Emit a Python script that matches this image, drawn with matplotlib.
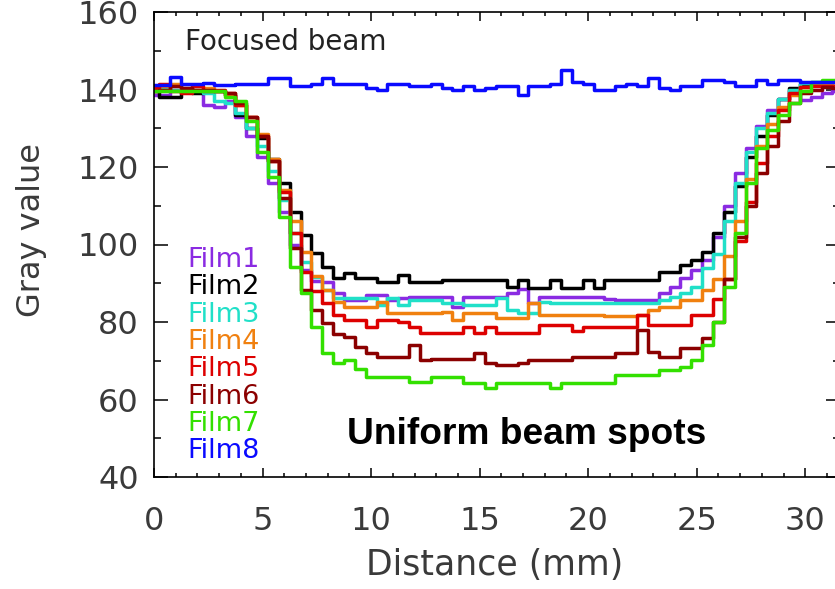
import matplotlib
matplotlib.use("Agg")
import matplotlib.pyplot as plt
from matplotlib.ticker import MultipleLocator

# sampling grid (mm)
distance = [i * 0.5 for i in range(64)]

film1 = [138.5, 138.5, 140, 140, 139.5, 136, 135.5, 137, 133, 128,
         122.5, 116, 108.5, 100, 93.4, 90.5, 90.3, 87.5, 85.7, 85.7,
         87, 87, 85.7, 86.2, 86.5, 86.5, 86.5, 86.5, 84, 86.5,
         86.5, 86.5, 86.5, 87.5, 88.5, 85, 86.5, 86.5, 86.5, 86.5,
         86.5, 86.5, 86, 85.7, 85.7, 85.7, 85.7, 87.5, 89, 91.3,
         93.4, 96, 102, 110, 118.5, 125, 130.5, 134.7, 137.5, 139.5,
         137.3, 138, 139, 139.5]
film2 = [139.5, 138, 138, 140, 139, 140, 139.5, 138.5, 133.5, 130,
         127.5, 122, 116, 108.5, 102.5, 97.8, 94.2, 91.3, 92.6, 91.3,
         91.3, 90.3, 90.3, 92.1, 90.3, 90.3, 90.3, 90.8, 90.8, 90.8,
         90.8, 90.8, 90.8, 89, 90.8, 88.8, 88.8, 90.8, 88.8, 88.8,
         90.8, 88.8, 90.8, 90.8, 90.8, 90.8, 90.8, 92.9, 92.9, 94.7,
         96, 98, 103, 108.5, 115, 122.6, 128, 133.5, 137.5, 140.5,
         141.5, 141.5, 141, 141]
film3 = [140, 140.5, 140, 139.5, 140, 139, 137, 136.5, 134, 130,
         125.5, 119, 111.5, 103, 95.5, 91.6, 88.3, 86.2, 86.2, 86.2,
         86.2, 84.4, 86.2, 84.4, 85.7, 85.7, 85.7, 84.9, 84.9, 84.4,
         84.4, 84.4, 86.2, 83.1, 82.3, 82.3, 85.2, 84.9, 84.9, 84.9,
         84.9, 84.9, 84.9, 84.9, 84.9, 84.9, 84.9, 85.7, 86.5, 87.5,
         89, 94, 97.5, 106, 116, 124, 130, 134, 137.5, 140,
         141.7, 142, 142, 142]
film4 = [140.5, 141, 141.5, 140.5, 140, 140.5, 139.5, 138.5, 136, 133,
         128.5, 122, 114, 106, 98, 92, 88.3, 85.2, 83.9, 83.9,
         83.9, 85.2, 82.3, 82.3, 82.3, 82.3, 82.3, 82.5, 80.5, 82.3,
         82.3, 82.3, 81, 81, 81, 85, 81.8, 81.8, 81.8, 81.8,
         81.8, 81.8, 81.5, 81.5, 81.5, 81.8, 83, 84, 84, 85.7,
         85.7, 88.3, 91, 97, 106, 117, 125.5, 131, 135.5, 138.5,
         140.6, 141.5, 141.5, 141]
film5 = [140.5, 141.5, 139.5, 139, 141, 139.5, 140, 139, 136, 133,
         128, 121.5, 113.5, 103, 93, 88, 84.9, 81.8, 80.5, 80.5,
         78.7, 80.5, 80.5, 80, 78.7, 77.2, 77.2, 77.2, 77.2, 78.7,
         77.2, 78.7, 77.2, 77.2, 77.2, 77.2, 79.2, 79.2, 79.2, 77.8,
         78.7, 78.7, 78.7, 78.7, 78.7, 81.8, 79.2, 79.2, 79.2, 79.2,
         81.8, 81.8, 86, 91, 101, 111, 121, 128, 134.7, 139,
         140.6, 141, 141, 141]
film6 = [139.5, 140, 141, 140.5, 140, 140, 139.5, 139, 136.5, 133,
         128, 121.5, 112, 99, 88.3, 83, 79.7, 77, 76.1, 73.5,
         72, 71, 71, 71, 74, 70.2, 70.5, 70.5, 70.5, 70.5,
         72, 69.4, 68.9, 68.9, 69.4, 70.2, 70.2, 70.2, 70.2, 71,
         71, 71, 71, 72, 72, 78, 72.3, 71, 71, 73.3,
         73.3, 75.9, 80, 91, 102, 110, 118.5, 125.5, 132, 136.5,
         139, 139.9, 140.6, 140.5]
film7 = [139.5, 139.6, 139.6, 139.6, 139.6, 139.6, 139.6, 138, 137, 132,
         124, 117.4, 107, 94.2, 87.5, 78.7, 72, 69.4, 70.2, 68,
         65.8, 65.8, 65.8, 65.8, 64.5, 64.5, 65.8, 65.8, 65.8, 64.3,
         64.3, 63, 64.3, 64.3, 64.3, 64.3, 64.3, 63, 64.3, 64.3,
         64.3, 64.3, 64.3, 66.3, 66.3, 66.3, 66.3, 67.6, 67.6, 68.4,
         70.2, 74, 80, 89, 103, 116, 125, 129.5, 133.5, 136.5,
         139.5, 142, 142.5, 142.5]
film8 = [141.2, 141.2, 143.2, 141.5, 141.5, 141.8, 141.2, 141.2, 141.5, 141.5,
         141.5, 143, 143, 141, 141, 141.5, 143, 141.5, 141.5, 141.5,
         140.5, 140, 141.5, 141.5, 141, 141, 141.5, 140.5, 140, 141,
         140, 140.5, 141, 141, 138.5, 141, 141, 141.5, 145, 142,
         141.5, 140, 140, 141, 141.5, 141, 143, 140.5, 140, 141,
         141, 142.5, 142.5, 142, 141, 141, 142.5, 141.5, 142.5, 142.5,
         142, 142, 142, 142]

labels = ["Film1", "Film2", "Film3", "Film4", "Film5", "Film6", "Film7", "Film8"]
series = [film1, film2, film3, film4, film5, film6, film7, film8]
colors = ["#8A2BE2", "#000000", "#20E0C8", "#F0800F", "#DD0000", "#8B0000", "#33E000", "#0A0AFF"]

fig = plt.figure(figsize=(8.35, 5.89), dpi=100)
ax = fig.add_axes([154 / 835, 1 - 477 / 589, 686 / 835, 465 / 589])

for vals, col in zip(series, colors):
    ax.plot(distance, vals, color=col, lw=2.5, drawstyle="steps-mid")

ax.set_xlim(0, 31.6)
ax.set_ylim(40, 160)
ax.xaxis.set_major_locator(MultipleLocator(5))
ax.xaxis.set_minor_locator(MultipleLocator(1))
ax.yaxis.set_major_locator(MultipleLocator(20))
ax.yaxis.set_minor_locator(MultipleLocator(10))

for s in ax.spines.values():
    s.set_linewidth(1.2)

ax.tick_params(which="both", direction="in", top=True, right=True, width=1.1,
               labelcolor="#3a3a3a", labelsize=23)
ax.tick_params(axis="x", which="major", length=6.5, pad=21)
ax.tick_params(axis="x", which="minor", length=3.2)
ax.tick_params(axis="y", which="major", length=10, pad=11)
ax.tick_params(axis="y", which="minor", length=5)

ax.set_xlabel("Distance (mm)", fontsize=25, color="#3a3a3a")
ax.set_ylabel("Gray value", fontsize=23, color="#3a3a3a")
ax.xaxis.label.set_va("center")
ax.yaxis.label.set_va("center")
ax.xaxis.set_label_coords(0.497, -0.189)
ax.yaxis.set_label_coords(-0.179, 0.531)

ax.text(1.43, 150.2, "Focused beam", fontsize=20, color="#222222", va="baseline", ha="left")

for k, (lab, col) in enumerate(zip(labels, colors)):
    ax.text(1.52, 94.2 - 7.05 * k, lab, fontsize=19.5, color=col, va="baseline", ha="left")

ax.text(8.9, 48.5, "Uniform beam spots", fontsize=26.7, fontweight="bold",
        family="Liberation Sans", color="black", va="baseline", ha="left")

fig.savefig("out.png", dpi=100)
